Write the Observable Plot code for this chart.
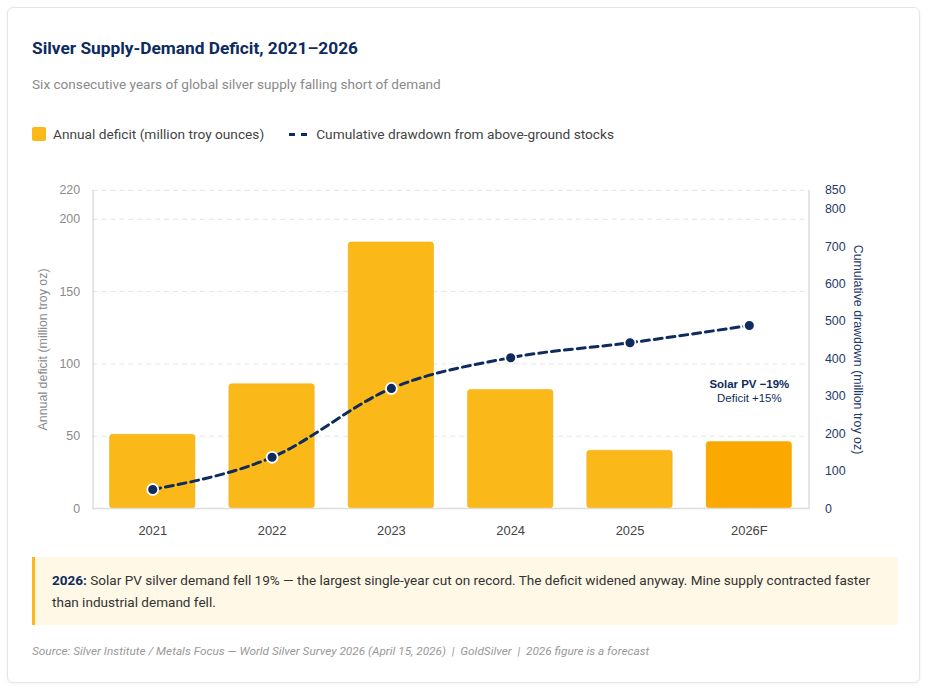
<!DOCTYPE html>
<html>
<head>
<meta charset="utf-8">
<script src="https://cdn.jsdelivr.net/npm/d3@7"></script>
<script src="https://cdn.jsdelivr.net/npm/@observablehq/plot@0.6"></script>
<style>
  html, body { margin: 0; padding: 0; background: #ffffff; }
  body { width: 929px; height: 690px; overflow: hidden; font-family: Roboto, "Noto Sans", sans-serif; }
  .card {
    position: absolute; left: 7px; top: 7px; width: 913px; height: 676px;
    border: 1px solid #e6e6e6; border-radius: 6px; box-sizing: border-box;
    box-shadow: 0 1px 3px rgba(0,0,0,0.06);
    padding: 30px 24px 0 24px; background: #fff;
  }
  h1 { margin: 0; font-size: 17.3px; line-height: 20px; font-weight: 700; color: #0d2b5e; }
  .sub { margin-top: 16px; font-size: 13.6px; line-height: 20px; color: #8a8a8a; }
  .legend { margin-top: 30px; display: flex; align-items: center; font-size: 13.7px; line-height: 20px; color: #444; }
  .sw { width: 14px; height: 14px; border-radius: 2px; background: #FBB919; margin-right: 7px; }
  .dash { width: 18px; height: 0; border-top: 3px dashed #0d2b5e; margin: 0 9px 0 25px; }
  #chart { margin-top: 26px; margin-left: -12px; height: 370px; }
  .callout {
    margin-top: 17px; background: #FFF8E6; border-left: 3px solid #FBB919;
    padding: 12px 6px 12px 17px; font-size: 13.55px; line-height: 22px; color: #333; width: 866px; box-sizing: border-box;
  }
  .callout b { color: #0d2b5e; }
  .source { margin-top: 17px; font-size: 11.8px; line-height: 18px; color: #999; font-style: italic; }
</style>
</head>
<body>
<div class="card">
  <h1>Silver Supply-Demand Deficit, 2021–2026</h1>
  <div class="sub">Six consecutive years of global silver supply falling short of demand</div>
  <div class="legend">
    <div class="sw"></div><span>Annual deficit (million troy ounces)</span>
    <div class="dash"></div><span>Cumulative drawdown from above-ground stocks</span>
  </div>
  <div id="chart"></div>
  <div class="callout"><b>2026:</b> Solar PV silver demand fell 19% — the largest single-year cut on record. The deficit widened anyway. Mine supply contracted faster than industrial demand fell.</div>
  <div class="source">Source: Silver Institute / Metals Focus — World Silver Survey 2026 (April 15, 2026) &nbsp;|&nbsp; GoldSilver &nbsp;|&nbsp; 2026 figure is a forecast</div>
</div>
<script>
const years = ["2021", "2022", "2023", "2024", "2025", "2026F"];
const deficit = [51, 86, 184, 82, 40, 46];
const cumulative = [51, 137, 321, 403, 443, 489];
const barColors = ["#FBB919", "#FBB919", "#FBB919", "#FBB919", "#FBB919", "#FBA900"];
const leftTicks = [0, 50, 100, 150, 200, 220];
const rightTicks = [0, 100, 200, 300, 400, 500, 600, 700, 800, 850];
const leftMax = 220, rightMax = 850;
const k = leftMax / rightMax;

const navy = "#0d2b5e";
const data = years.map((y, i) => ({year: y, deficit: deficit[i], cum: cumulative[i], color: barColors[i]}));
const last = data[data.length - 1];

const chart = Plot.plot({
  width: 880,
  height: 370,
  marginLeft: 73,
  marginRight: 87,
  marginTop: 20,
  marginBottom: 30,
  style: {fontFamily: "'Liberation Sans', Arial, sans-serif", fontSize: "12.5px", background: "transparent", overflow: "visible"},
  x: {domain: years, paddingInner: 0.284, paddingOuter: 0.142, round: false, label: null},
  y: {domain: [0, leftMax], label: null},
  color: {type: "identity"},
  marks: [
    Plot.gridY(leftTicks, {stroke: "#e4e4e4", strokeOpacity: 1, strokeDasharray: "5,4"}),
    Plot.barY(data, {x: "year", y: "deficit", fill: "color", rx: 3, stroke: "#EDAA0C", strokeWidth: 0.8, strokeOpacity: 0.6}),
    Plot.ruleY([0], {stroke: "#dddddd", strokeWidth: 1.5}),
    Plot.frame({anchor: "left", stroke: "#dddddd", strokeWidth: 1.5}),
    Plot.frame({anchor: "right", stroke: "#dddddd", strokeWidth: 1.5}),
    Plot.line(data, {x: "year", y: d => d.cum * k, curve: "monotone-x", stroke: navy, strokeWidth: 3, strokeDasharray: "8,5"}),
    Plot.dot(data, {x: "year", y: d => d.cum * k, r: 5.5, fill: navy, stroke: "#fff", strokeWidth: 1.8}),
    Plot.text([last], {x: "year", y: "deficit", dy: -58, text: () => "Solar PV −19%", fill: navy, fontWeight: "bold", fontSize: 11.5}),
    Plot.text([last], {x: "year", y: "deficit", dy: -44, text: () => "Deficit +15%", fill: navy, fontSize: 11.5}),
    Plot.axisX({tickSize: 0, tickPadding: 17, color: "#444", fontSize: 13, label: null}),
    Plot.axisY(leftTicks, {anchor: "left", tickSize: 0, tickPadding: 13, color: "#8a8a8a", fontSize: 12.5, label: null}),
    Plot.axisY(rightTicks.map(v => v * k), {anchor: "right", tickSize: 0, tickPadding: 16, color: "#1f3a6b", fontSize: 12.5, label: null, tickFormat: d => String(Math.round(d / k))}),
    Plot.text(["Annual deficit (million troy oz)"], {frameAnchor: "left", dx: -50, rotate: -90, textAnchor: "middle", fill: "#8a8a8a", fontSize: 12.5}),
    Plot.text(["Cumulative drawdown (million troy oz)"], {frameAnchor: "right", dx: 49, rotate: 90, textAnchor: "middle", fill: "#1f3a6b", fontSize: 12.5})
  ]
});
document.getElementById("chart").appendChild(chart);
</script>
</body>
</html>
